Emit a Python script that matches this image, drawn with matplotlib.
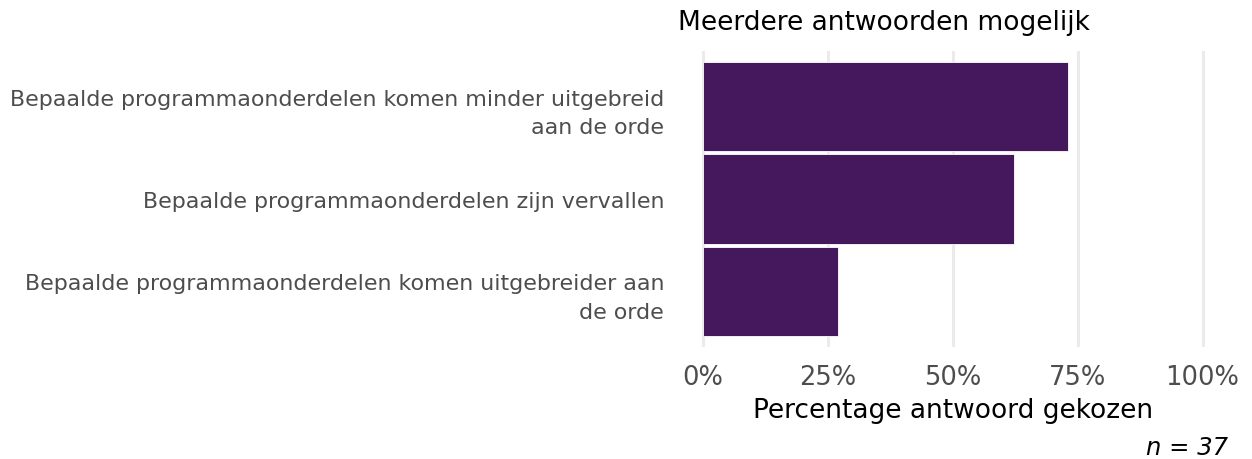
import matplotlib
matplotlib.use("Agg")
import matplotlib.pyplot as plt

plt.rcParams['font.family'] = ['DejaVu Sans']

categories = [
    "Bepaalde programmaonderdelen komen minder uitgebreid\naan de orde",
    "Bepaalde programmaonderdelen zijn vervallen",
    "Bepaalde programmaonderdelen komen uitgebreider aan\nde orde",
]
percentages = [73.0, 62.2, 27.0]
xticks = [0, 25, 50, 75, 100]
xticklabels = ["0%", "25%", "50%", "75%", "100%"]
title = "Meerdere antwoorden mogelijk"
xlabel = "Percentage antwoord gekozen"
caption = "n = 37"

W, H = 1252, 460
fig = plt.figure(figsize=(W / 100, H / 100), dpi=100)
left, right = 678 / W, 1227.5 / W
top, bottom = 1 - 52 / H, 1 - 348 / H
ax = fig.add_axes([left, bottom, right - left, top - bottom])

n = len(categories)
ypos = [n - i for i in range(n)]
ax.barh(ypos, percentages, height=0.97, color="#45175D", edgecolor="white", linewidth=0.6, zorder=3)

ax.set_xlim(-5, 105)
ax.set_ylim(0.4, n + 0.6)
ax.set_xticks(xticks)
ax.set_xticklabels(xticklabels, fontsize=18.5, color="#4D4D4D")
ax.set_yticks(ypos)
ax.set_yticklabels(categories, fontsize=15.9, color="#4D4D4D", linespacing=1.55)
ax.tick_params(axis="both", length=0)
ax.tick_params(axis="x", pad=12)
ax.tick_params(axis="y", pad=10)
for lab in ax.get_yticklabels():
    lab.set_horizontalalignment("right")
    lab.set_multialignment("right")

ax.grid(axis="x", color="#EBEBEB", linewidth=2.2, zorder=0)
ax.grid(axis="y", visible=False)
for s in ax.spines.values():
    s.set_visible(False)

ax.set_xlabel(xlabel, fontsize=19, color="black", labelpad=5)
fig.text(left, 1 - 23 / H, title, fontsize=19, color="black", ha="left", va="center")
fig.text(1228 / W, 1 - 448 / H, caption, fontsize=17.5, style="italic", ha="right", va="center", color="black")

fig.savefig("out.png", dpi=100, facecolor="white")
